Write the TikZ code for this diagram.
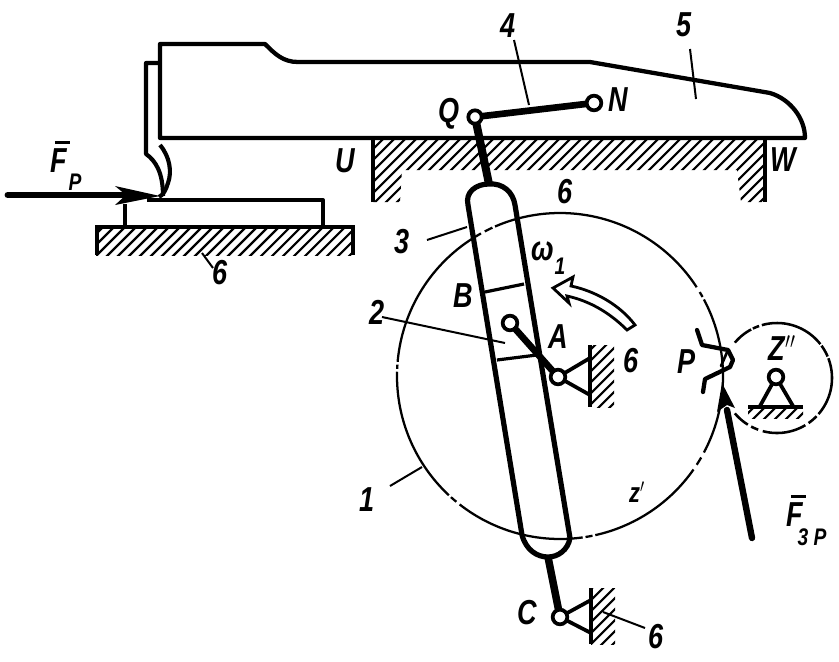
\documentclass[tikz,border=0pt]{standalone}
\usepackage{fontspec}
\setmainfont{Liberation Sans}
\newcommand\barred[1]{\leavevmode\rlap{\kern.15em\raisebox{.83em}{\rule{.55em}{.09em}}}#1}
\newcommand\hatchfill[3]{% clip path, first sum, number of lines
  \begin{scope}
    \clip #1;
    \foreach \i [evaluate=\i as \c using #2+11*\i] in {0,...,#3} {
      \draw[hatchline] (\c-700,700) -- (\c,0);
    }
  \end{scope}}
\tikzset{
  every node/.style={inner sep=0pt,outer sep=0pt},
  lab/.style={font=\fontsize{26}{26}\selectfont\bfseries\itshape,xscale=.78},
  sublab/.style={font=\fontsize{18}{18}\selectfont\bfseries\itshape,xscale=.8},
  body/.style={line width=3.1pt,line join=round},
  rod/.style={line width=5pt,line cap=butt},
  wall/.style={line width=3.2pt},
  thinl/.style={line width=1.5pt},
  hatchline/.style={line width=1.6pt},
  gear/.style={line width=1.7pt},
  strut/.style={line width=2.8pt},
  pivot/.style={circle,draw,fill=white,line width=2.8pt,minimum size=#1},
  pivot/.default=12pt,
  tooth/.style={line width=2.4pt,line join=round,line cap=round},
}
\begin{document}
\begin{tikzpicture}[x=.75pt,y=-.75pt]
\useasboundingbox (0,0) rectangle (839,661);

% named points
\coordinate (bodyTL) at (160,44);
\coordinate (bodyBL) at (160,138);
\coordinate (bodyBR) at (805,138);
\coordinate (rodTop) at (489,184);
\coordinate (rodBot) at (548,557);

% hatching
\hatchfill{(373,138) -- (765,138) -- (765,202) -- (741,202) -- (737,170) -- (402,170) -- (400,202) -- (373,202) -- cycle}{500}{44}
\hatchfill{(96,227) rectangle (354,255)}{330}{27}
\hatchfill{(590,345) rectangle (614,407)}{940}{9}
\hatchfill{(591,588) rectangle (615,644)}{1180}{9}
\hatchfill{(748,407) rectangle (803,418)}{1150}{7}

% gear wheel 1, with its gaps
\foreach \a/\b in {-28/28,30/33,35/77.5,78.5/81,82/128,129.5/132,133/181.5,182.5/184,185/241,242.5/245.5,246.5/327,329/331}
  \draw[gear] plot[domain=\a:\b,samples=40,smooth] ({560+163*cos(\x)},{376+163*sin(\x)});
% pitch circle z''
\foreach \a/\b in {-140/-118,-116/-109,-106/-38,-36/-23,-21/41,44/55,59/105,110/118,122/140}
  \draw[line width=1.9pt] plot[domain=\a:\b,samples=30,smooth] ({777+55*cos(\x)},{378+55*sin(\x)});

% body 5
\draw[body,line width=3.2pt] (bodyBL) -- (bodyTL) -- (265,44)
  .. controls (275,54) and (283,62) .. (298,62) -- (590,62) -- (770,93)
  .. controls (790,99) and (805,118) .. (bodyBR) -- cycle;
% cutter
\draw[body] (160,63) -- (146,63) -- (146,154)
  .. controls (156,161) and (163,173) .. (163,196);
\draw[body] (160,145) .. controls (170,157) and (172,172) .. (168,183)
  .. controls (166,190) and (163,195) .. (159,197);

% workpiece and base
\draw[body] (125,227) -- (125,204);
\draw[body] (147,200) -- (323,200) -- (323,227);
\draw[wall] (97,255) -- (97,227) -- (353,227) -- (353,255);

% walls of the frame
\draw[wall] (373,202) -- (373,138);
\draw[wall] (765,138) -- (765,202);
\draw[wall] (590,345) -- (590,407);
\draw[wall] (591,588) -- (591,644);
\draw[wall] (748,407) -- (803,407);

% pivots
\node[pivot=10pt] (Q) at (475,117) {};
\node[pivot=11pt] (N) at (594,103) {};
\node[pivot=11pt] (Bp) at (510,323) {};
\node[pivot=11pt] (Ap) at (558,377) {};
\node[pivot=11pt] (Cp) at (560,617) {};
\node[pivot=11pt] (Zp) at (776,377) {};

% struts
\coordinate (As1) at (590,358);
\coordinate (As2) at (590,395);
\coordinate (Cs1) at (591,600);
\coordinate (Cs2) at (591,633);
\coordinate (Zs1) at (760,406);
\coordinate (Zs2) at (793,406);
\draw[strut] (Ap) -- (As1);
\draw[strut] (Ap) -- (As2);
\draw[strut] (Cp) -- (Cs1);
\draw[strut] (Cp) -- (Cs2);
\draw[strut] (Zp) -- (Zs1);
\draw[strut] (Zp) -- (Zs2);

% slotted link 3
\draw[line width=3.9pt,line join=round] (468,205)
  .. controls (465,192) and (476,184) .. (rodTop)
  .. controls (503,183) and (513,192) .. (515,205)
  -- (570,538)
  .. controls (568,550) and (558,557) .. (rodBot)
  .. controls (537,557) and (526,550) .. (522,535) -- cycle;
\draw[rod,line width=6pt] (rodTop) -- (Q);
\draw[rod,line width=5.6pt] (rodBot) -- (Cp);
\draw[rod,line width=5pt] (Q) -- (N);

% slider 2
\draw[line width=2.4pt] (485,292) -- (524,284);
\draw[line width=2.4pt] (497,360) -- (537,355);
\draw[rod] (Bp) -- (Ap);

% teeth at P
\draw[tooth,line width=3.2pt] (697,330) -- (702,345) -- (728,350) -- (733,360) -- (730,367) -- (705,379) -- (703,392);
\draw[tooth,line width=2pt] (728,350) -- (721,366);

% arrows
\coordinate (FpTail) at (8,195);
\coordinate (FpTip) at (160,196);
\draw[line width=5.2pt,line cap=round] (FpTail) -- (125,195);
\fill (FpTip) -- (115,186) -- (126,195) -- (115,205) -- cycle;

\coordinate (FzTail) at (752,538);
\coordinate (FzTip) at (722,383);
\draw[line width=4.8pt,line cap=round] (FzTail) -- (727,410);
\fill (FzTip) -- (735,408) -- (727,405) -- (717,412) -- cycle;

% omega arrow
\draw[line width=2.1pt,line join=miter,fill=white] (553,288) -- (573,277) -- (571,286)
  .. controls (595,291) and (620,305) .. (635,325) -- (627,330)
  .. controls (610,313) and (590,301) .. (567,296) -- (569,303) -- cycle;

% leaders
\coordinate (l4a) at (514,40);   \coordinate (l4b) at (529,105);
\coordinate (l5a) at (690,49);   \coordinate (l5b) at (696,99);
\coordinate (l3a) at (427,240);  \coordinate (l3b) at (467,227);
\coordinate (l2a) at (382,317);  \coordinate (l2b) at (505,343);
\coordinate (l1a) at (390,486);  \coordinate (l1b) at (422,467);
\coordinate (l6a) at (202,253);  \coordinate (l6b) at (213,268);
\coordinate (l7a) at (645,628);  \coordinate (l7b) at (603,612);
\foreach \p/\q in {l4a/l4b,l5a/l5b,l3a/l3b,l2a/l2b,l1a/l1b,l6a/l6b,l7a/l7b}
  \draw[thinl] (\p) -- (\q);

% labels
\node[lab] (t4) at (508,26) {4};
\node[lab] (t5) at (684,25) {5};
\node[lab] (tQ) at (449,114) {Q};
\node[lab] (tN) at (618,100) {N};
\node[lab] (tU) at (345,161) {U};
\node[lab] (tW) at (783,160) {W};
\node[lab] (t6a) at (565,192) {6};
\node[lab] (t3) at (402,242) {3};
\node[lab] (tB) at (463,296) {B};
\node[lab] (t2) at (377,312) {2};
\node[lab] (tA) at (558,337) {A};
\node[lab] (t6b) at (631,361) {6};
\node[lab] (tP) at (687,362) {P};
\node[lab] (tZ) at (782,348) {Z$''$};
\node[lab] (t1) at (367,500) {1};
\node[lab,font=\fontsize{21}{21}\selectfont\bfseries\itshape] (tz) at (637,492) {z$'$};
\node[lab] (tC) at (527,613) {C};
\node[lab] (t6c) at (656,637) {6};
\node[lab] (t6d) at (220,273) {6};
\node[lab] (tom) at (543,251) {ω};
\node[sublab] (tom1) at (560,266) {1};
\node[lab] (tF) at (59,157) {\barred{F}};
\node[sublab] (tFp) at (75,182) {P};
\node[lab] (tFz) at (795,511) {\barred{F}};
\node[sublab] (tFz3) at (812,537) {3 P};
\end{tikzpicture}
\end{document}
